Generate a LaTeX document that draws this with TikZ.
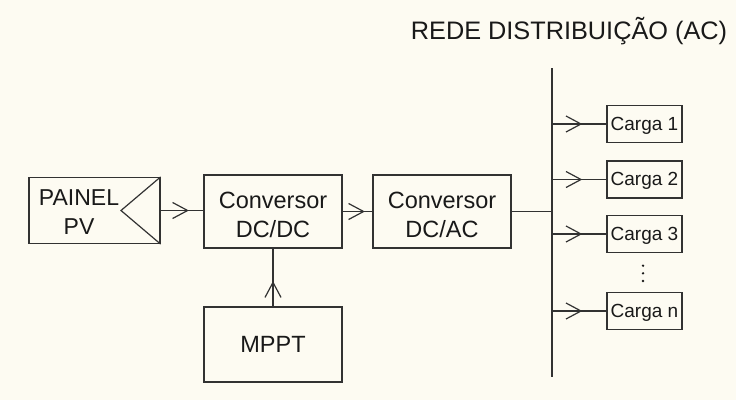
\documentclass[tikz,border=0pt]{standalone}
\usepackage{fontspec}
\setmainfont{Liberation Sans}
\usetikzlibrary{decorations.markings}
\definecolor{paper}{RGB}{253,251,242}
\definecolor{ink}{RGB}{50,50,50}
\definecolor{txt}{RGB}{25,25,25}
\tikzset{
  wire/.style={draw=ink, line width=1.2pt},
  block/.style={draw=ink, line width=1.2pt, inner sep=0pt, align=center,
    text=txt, font=\fontsize{23.5}{29}\selectfont},
  loadbox/.style={draw=ink, line width=1.2pt, inner sep=0pt,
    minimum width=75pt, minimum height=37pt, text=txt,
    font=\fontsize{19}{22}\selectfont},
  % open chevron placed along a wire, its tip at the given distance
  barb/.style={postaction={decorate, decoration={markings,
    mark=at position #1 with {\draw[ink, line width=1.2pt] (-15,-8) -- (0,0) -- (-15,8);}}}}
}
\begin{document}
\begin{tikzpicture}[x=1pt,y=-1pt]
  % page
  \fill[paper] (0,0) rectangle (736,400);
  \useasboundingbox (0,0) rectangle (736,400);

  % title of the AC bus
  \node[anchor=base, text=txt, font=\fontsize{25.3}{30}\selectfont, inner sep=0pt]
    (title) at (569,39) {REDE DISTRIBUIÇÃO (AC)};

  % PV panel with its symbol
  \node[draw=ink, line width=1.2pt, minimum width=131pt, minimum height=66pt, inner sep=0pt]
    (pv) at (94.5,210.5) {};
  \coordinate (apex) at (121,210.5);
  \draw[wire] (pv.north east) -- (apex) -- (pv.south east);
  \node[align=center, text=txt, font=\fontsize{23}{29}\selectfont, inner sep=0pt]
    (pvtxt) at (79,212.5) {PAINEL\\PV};

  % converters and tracker
  \node[block, minimum width=138pt, minimum height=73pt] (dcdc) at (273,211.5)
    {\rule{0pt}{24pt}Conversor\\DC/DC};
  \node[block, minimum width=138pt, minimum height=73pt] (dcac) at (442,211.5)
    {\rule{0pt}{24pt}Conversor\\DC/AC};
  \node[block, minimum width=138pt, minimum height=75pt] (mppt) at (273,344.5) {MPPT};

  % distribution bus
  \coordinate (busT) at (552,68);
  \coordinate (busB) at (552,377);
  \draw[wire] (busT) -- (busB);

  % loads
  \node[loadbox] (c1) at (644.5,124) {\rule{0pt}{16pt}Carga 1};
  \node[loadbox] (c2) at (644.5,179.5) {\rule{0pt}{16pt}Carga 2};
  \node[loadbox] (c3) at (644.5,234) {\rule{0pt}{16pt}Carga 3};
  \node[loadbox] (cn) at (644.5,311) {\rule{0pt}{16pt}Carga n};
  \fill[txt] (643,265.7) circle (1.3) (643,273.3) circle (1.3) (643,281) circle (1.3);

  % connections
  \draw[wire, barb=27pt] (pv.east) -- (pv.east -| dcdc.west);
  \draw[wire, barb=21pt] (dcdc.east) -- (dcac.west);
  \draw[wire, barb=24pt] (mppt.north) -- (dcdc.south);
  \draw[wire] (dcac.east) -- (busT |- dcac.east);
  \foreach \c in {c1,c2,c3,cn}
    \draw[wire, barb=29pt] (busT |- \c.west) -- (\c.west);
\end{tikzpicture}
\end{document}
